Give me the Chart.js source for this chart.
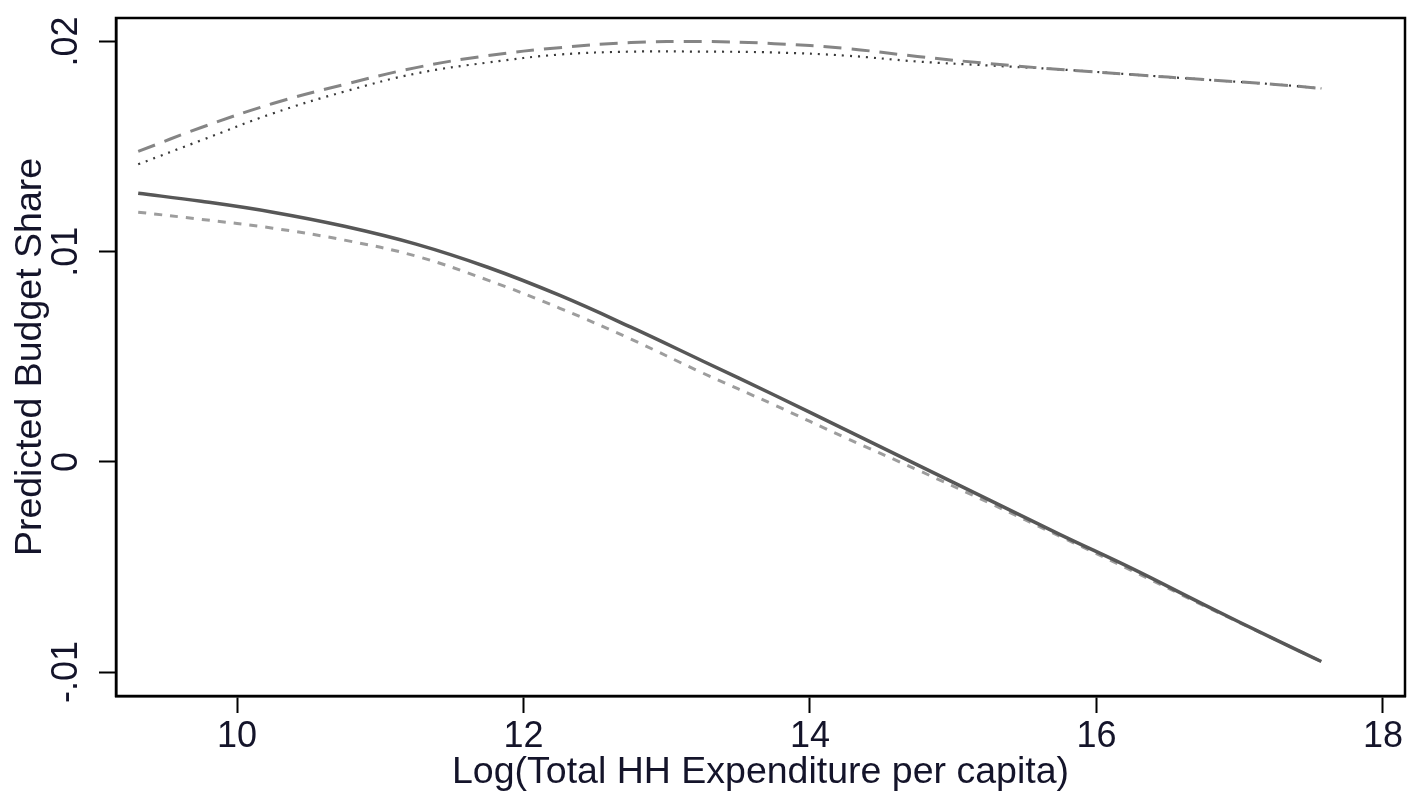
<!DOCTYPE html>
<html>
<head>
<meta charset="utf-8">
<title>Predicted Budget Share</title>
<script src="https://cdn.jsdelivr.net/npm/chart.js@4/dist/chart.umd.min.js"></script>
<style>
  html, body { margin: 0; padding: 0; background: #ffffff; }
  canvas { display: block; }
</style>
</head>
<body>
<canvas id="chart" width="1408" height="795"></canvas>
<script>
// Log of total household expenditure per capita (x positions of the fitted curves)
const logExp = [9.31, 9.75, 10.25, 10.75, 11.25, 11.75, 12.25, 12.75, 13.25, 13.75,
                14.25, 14.75, 15.25, 15.75, 16.25, 16.75, 17.25, 17.57];

// Predicted budget shares, one array per curve
const shareLongDash = [0.01477, 0.01591, 0.01705, 0.01796, 0.01876, 0.01933, 0.01971, 0.01995, 0.02000, 0.01990,
                       0.01967, 0.01929, 0.01895, 0.01867, 0.01843, 0.01819, 0.01796, 0.01777];
const shareDotted   = [0.01416, 0.01530, 0.01658, 0.01762, 0.01848, 0.01900, 0.01938, 0.01952, 0.01952, 0.01948,
                       0.01933, 0.01905, 0.01886, 0.01867, 0.01843, 0.01819, 0.01796, 0.01777];
const shareSolid    = [0.01278, 0.01240, 0.01188, 0.01121, 0.01036, 0.00926, 0.00793, 0.00641, 0.00480, 0.00318,
                       0.00152, -0.00014, -0.00181, -0.00347, -0.00508, -0.00679, -0.00846, -0.00950];
const shareShortDash= [0.01188, 0.01154, 0.01112, 0.01055, 0.00979, 0.00865, 0.00732, 0.00584, 0.00423, 0.00271,
                       0.00114, -0.00038, -0.00195, -0.00356, -0.00518, -0.00684, -0.00846, -0.00950];

// Axis ticks and labels
const xTicks = [10, 12, 14, 16, 18];
const yTicks = [-0.01, 0, 0.01, 0.02];
const yTickLabels = ['-.01', '0', '.01', '.02'];

const xTitle = 'Log(Total HH Expenditure per capita)';
const yTitle = 'Predicted Budget Share';

const pts = (ys) => logExp.map((x, i) => ({ x: x, y: ys[i] }));

const textColor = '#14142a';
const tickFont = { family: '"Liberation Sans", Arial, sans-serif', size: 36 };
const titleFont = { family: '"Liberation Sans", Arial, sans-serif', size: 37.5 };

// Frame around the plotting region
const framePlugin = {
  id: 'frame',
  afterDraw(chart) {
    const { ctx, chartArea: a } = chart;
    ctx.save();
    ctx.strokeStyle = '#000';
    ctx.lineWidth = 2.5;
    ctx.strokeRect(a.left, a.top, a.right - a.left, a.bottom - a.top);
    ctx.restore();
  }
};

new Chart(document.getElementById('chart'), {
  type: 'line',
  data: {
    datasets: [
      { data: pts(shareLongDash), borderColor: '#858585', borderWidth: 3, borderDash: [18, 10] },
      { data: pts(shareDotted), borderColor: '#3a3a3a', borderWidth: 2.2, borderDash: [2, 6] },
      { data: pts(shareSolid), borderColor: '#575757', borderWidth: 3.5 },
      { data: pts(shareShortDash), borderColor: '#9d9d9d', borderWidth: 3, borderDash: [8, 8] }
    ]
  },
  options: {
    responsive: false,
    animation: false,
    layout: { padding: { left: 8, right: 3, top: 18, bottom: 0 } },
    elements: {
      point: { radius: 0 },
      line: { tension: 0.4, cubicInterpolationMode: 'default', fill: false }
    },
    plugins: {
      legend: { display: false },
      tooltip: { enabled: false }
    },
    scales: {
      x: {
        type: 'linear',
        min: 9.155,
        max: 18.154,
        afterBuildTicks: (s) => { s.ticks = xTicks.map(v => ({ value: v })); },
        afterFit: (s) => { s.height = 99; s.paddingLeft = 0; s.paddingRight = 0; },
        grid: { display: true, drawOnChartArea: false, drawTicks: true, tickLength: 17, tickWidth: 2, tickColor: '#000' },
        border: { display: true, color: '#000', width: 2.5 },
        ticks: { color: textColor, font: tickFont, padding: 2, maxRotation: 0, minRotation: 0,
                 callback: (v) => String(v) },
        title: { display: true, text: xTitle, color: textColor, font: titleFont, padding: { top: 0, bottom: 0 } }
      },
      y: {
        type: 'linear',
        min: -0.01114,
        max: 0.02112,
        afterBuildTicks: (s) => { s.ticks = yTicks.map(v => ({ value: v })); },
        afterFit: (s) => { s.width = 108; s.paddingTop = 0; s.paddingBottom = 0; },
        grid: { display: true, drawOnChartArea: false, drawTicks: true, tickLength: 17, tickWidth: 2, tickColor: '#000' },
        border: { display: true, color: '#000', width: 2.5 },
        ticks: { color: textColor, font: tickFont, padding: 1, minRotation: 90, maxRotation: 90, crossAlign: 'center',
                 callback: (v) => yTickLabels[yTicks.findIndex(t => Math.abs(t - v) < 1e-9)] },
        title: { display: true, text: yTitle, color: textColor, font: titleFont, padding: { top: 0, bottom: 0 } }
      }
    }
  },
  plugins: [framePlugin]
});
</script>
</body>
</html>
